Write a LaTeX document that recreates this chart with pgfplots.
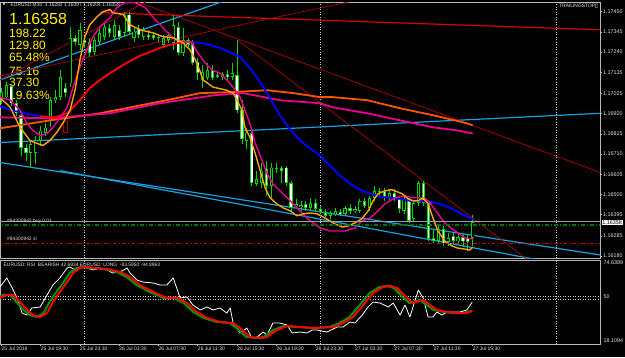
\documentclass[border=0pt]{standalone}
\usepackage{pgfplots}
\pgfplotsset{compat=1.18}
\usepackage{pgfplotstable}
\usepackage{fontspec}
\setmainfont{Liberation Sans}
\newfontfamily\dejavu{DejaVu Sans}
\definecolor{cgreen}{RGB}{0,215,0}
\definecolor{cyanl}{RGB}{25,160,225}
\definecolor{dred}{RGB}{175,0,0}
\definecolor{framec}{RGB}{185,185,185}
\definecolor{sepc}{RGB}{205,205,205}
\definecolor{oslow}{RGB}{255,85,0}
\definecolor{mtorange}{RGB}{255,165,0}
\definecolor{bidc}{RGB}{150,160,175}
\definecolor{rsigreen}{RGB}{0,150,0}
\definecolor{ordgreen}{RGB}{0,115,0}
\definecolor{txt}{RGB}{225,225,225}
\newcommand{\ft}{\fontsize{4.9}{5.5}\selectfont}

\pgfplotstableread{
i o h l c
0 1.16990 1.17053 1.16969 1.17032
1 1.17006 1.17084 1.16990 1.17068
2 1.17063 1.17074 1.16959 1.16974
3 1.16974 1.16990 1.16906 1.16922
4 1.16912 1.16922 1.16702 1.16744
5 1.16744 1.16765 1.16676 1.16718
6 1.16718 1.16781 1.16640 1.16760
7 1.16718 1.16807 1.16661 1.16781
8 1.16781 1.16859 1.16755 1.16833
9 1.16823 1.16875 1.16807 1.16849
10 1.16885 1.17006 1.16849 1.16990
11 1.16990 1.17042 1.16974 1.17006
12 1.17006 1.17147 1.16990 1.17110
13 1.17053 1.17079 1.17006 1.17027
14 1.17079 1.17372 1.17058 1.17314
15 1.17314 1.17330 1.17278 1.17293
16 1.17278 1.17393 1.17252 1.17356
17 1.17304 1.17330 1.17262 1.17288
18 1.17293 1.17314 1.17215 1.17236
19 1.17241 1.17320 1.17225 1.17304
20 1.17293 1.17367 1.17278 1.17340
21 1.17320 1.17398 1.17304 1.17372
22 1.17367 1.17388 1.17320 1.17340
23 1.17320 1.17408 1.17304 1.17382
24 1.17356 1.17382 1.17304 1.17320
25 1.17340 1.17450 1.17320 1.17435
26 1.17435 1.17450 1.17330 1.17346
27 1.17314 1.17367 1.17293 1.17346
28 1.17367 1.17382 1.17314 1.17330
29 1.17320 1.17372 1.17304 1.17356
30 1.17330 1.17356 1.17304 1.17320
31 1.17330 1.17340 1.17304 1.17314
32 1.17320 1.17330 1.17293 1.17314
33 1.17278 1.17330 1.17267 1.17314
34 1.17304 1.17346 1.17288 1.17330
35 1.17288 1.17435 1.17252 1.17382
36 1.17372 1.17398 1.17225 1.17236
37 1.17236 1.17367 1.17220 1.17304
38 1.17304 1.17314 1.17267 1.17278
39 1.17288 1.17304 1.17173 1.17184
40 1.17189 1.17210 1.17095 1.17131
41 1.17095 1.17173 1.17053 1.17136
42 1.17105 1.17184 1.17095 1.17147
43 1.17147 1.17173 1.17095 1.17105
44 1.17116 1.17136 1.17105 1.17121
45 1.17110 1.17136 1.17095 1.17126
46 1.17126 1.17147 1.17095 1.17110
47 1.17110 1.17184 1.17095 1.17131
48 1.17121 1.17304 1.16927 1.16938
49 1.16938 1.16990 1.16765 1.16791
50 1.16781 1.16844 1.16739 1.16823
51 1.16817 1.16833 1.16545 1.16561
52 1.16556 1.16624 1.16545 1.16582
53 1.16561 1.16666 1.16535 1.16624
54 1.16634 1.16676 1.16493 1.16545
55 1.16545 1.16666 1.16483 1.16640
56 1.16634 1.16666 1.16613 1.16640
57 1.16640 1.16650 1.16561 1.16624
58 1.16640 1.16650 1.16545 1.16561
59 1.16561 1.16572 1.16415 1.16430
60 1.16441 1.16478 1.16425 1.16451
61 1.16436 1.16467 1.16415 1.16446
62 1.16451 1.16467 1.16415 1.16430
63 1.16430 1.16483 1.16415 1.16457
64 1.16457 1.16478 1.16415 1.16425
65 1.16425 1.16441 1.16399 1.16410
66 1.16410 1.16425 1.16373 1.16389
67 1.16389 1.16415 1.16373 1.16404
68 1.16399 1.16430 1.16389 1.16415
69 1.16410 1.16425 1.16389 1.16399
70 1.16399 1.16441 1.16389 1.16430
71 1.16430 1.16451 1.16399 1.16415
72 1.16415 1.16441 1.16404 1.16425
73 1.16415 1.16478 1.16404 1.16467
74 1.16467 1.16483 1.16430 1.16441
75 1.16430 1.16493 1.16415 1.16483
76 1.16483 1.16545 1.16467 1.16519
77 1.16514 1.16535 1.16493 1.16519
78 1.16519 1.16535 1.16467 1.16483
79 1.16483 1.16530 1.16467 1.16509
80 1.16509 1.16530 1.16467 1.16478
81 1.16478 1.16488 1.16404 1.16425
82 1.16415 1.16488 1.16399 1.16478
83 1.16478 1.16488 1.16352 1.16362
84 1.16373 1.16467 1.16362 1.16457
85 1.16457 1.16572 1.16441 1.16561
86 1.16561 1.16572 1.16441 1.16457
87 1.16457 1.16467 1.16258 1.16268
88 1.16274 1.16321 1.16247 1.16258
89 1.16258 1.16336 1.16242 1.16321
90 1.16321 1.16336 1.16232 1.16247
91 1.16253 1.16300 1.16232 1.16274
92 1.16284 1.16300 1.16242 1.16258
93 1.16258 1.16294 1.16237 1.16279
94 1.16279 1.16294 1.16226 1.16258
95 1.16274 1.16289 1.16206 1.16253
96 1.16274 1.16394 1.16232 1.16358
}\candles

\begin{document}
\begin{tikzpicture}
\fill[black] (0pt,0pt) rectangle (625pt,357pt);
% yellow info text (under the chart lines)
\begin{scope}[every node/.style={anchor=west, inner sep=0pt, text=yellow}]
\node[font=\fontsize{16}{18}\selectfont] at (9pt,338.5pt) {1.16358};
\node[font=\fontsize{12}{14}\selectfont] at (9pt,323.3pt) {198.22};
\node[font=\fontsize{12}{14}\selectfont] at (9pt,312pt) {129.80};
\node[font=\fontsize{12}{14}\selectfont] at (9pt,299.5pt) {65.48\%};
\node[font=\fontsize{12}{14}\selectfont] at (9pt,286pt) {75.16};
\node[font=\fontsize{12}{14}\selectfont] at (9pt,274.5pt) {37.30};
\node[font=\fontsize{12}{14}\selectfont] at (9pt,262pt) {19.63\%};
\end{scope}

% ---------------- price panel ----------------
\begin{axis}[
  at={(0pt,99pt)}, anchor=south west,
  scale only axis, width=600pt, height=256pt,
  xmin=-0.285, xmax=121.915,
  ymin=1.161697, ymax=1.175004,
  axis line style={framec, line width=0.8pt},
  xtick=\empty,
  extra x ticks={17,65,113}, extra x tick labels={,,},
  extra x tick style={grid=major, major tick length=0pt},
  major grid style={draw=sepc, line width=0.8pt, dash pattern=on 1pt off 1.5pt},
  ytick={1.16180,1.16285,1.16395,1.16500,1.16605,1.16710,1.16815,1.16920,1.17025,1.17135,1.17240,1.17345,1.17450},
  yticklabels={1.16180,1.16285,1.16395,1.16500,1.16605,1.16710,1.16815,1.16920,1.17025,1.17135,1.17240,1.17345,1.17450},
  ytick pos=right, yticklabel pos=right,
  yticklabel style={font=\fontsize{5.4}{6}\selectfont, text=txt, anchor=west, inner sep=0.8pt},
  tick align=outside, major tick length=2pt,
  tick style={framec, line width=0.6pt},
]
% trend lines
\addplot[cyanl, line width=1.2pt] coordinates {(-0.3,1.16770) (122.1,1.16922)};
\addplot[cyanl, line width=1.2pt] coordinates {(-0.3,1.17095) (48.6,1.17535)};
\addplot[cyanl, line width=1.2pt] coordinates {(-0.3,1.16666) (122.1,1.16185)};
\addplot[cyanl, line width=1.2pt] coordinates {(11.9,1.16624) (109.7,1.16158)};
\addplot[dred, line width=0.7pt] coordinates {(-0.3,1.17095) (30.3,1.17513)};
\addplot[dred, line width=0.7pt] coordinates {(-0.3,1.17116) (73.0,1.17513)};
\addplot[red!85!black, line width=1.2pt] coordinates {(20.1,1.17445) (122.1,1.17356)};
\addplot[dred, line width=0.7pt] coordinates {(26.4,1.17513) (122.1,1.16613)};
\addplot[dred, line width=0.7pt] coordinates {(48.0,1.17304) (107.6,1.16153)};
\addplot[dred, line width=0.9pt] coordinates {(12.6,1.16882) (13.4,1.16882) (13.4,1.16820) (12.6,1.16820) (12.6,1.16882)};
% candles: wicks
\addplot[draw=none, mark=none, error bars/.cd, y dir=both, y explicit, error mark=none,
  error bar style={draw=cgreen, line width=0.8pt}]
  table[x=i, y expr={(\thisrow{h}+\thisrow{l})/2}, y error expr={(\thisrow{h}-\thisrow{l})/2}] {\candles};
% candles: body outlines
\addplot[draw=none, mark=none, error bars/.cd, y dir=both, y explicit, error mark=none,
  error bar style={draw=cgreen, line width=3.2pt}]
  table[x=i, y expr={(\thisrow{o}+\thisrow{c})/2}, y error expr={max(abs(\thisrow{o}-\thisrow{c})/2,0.00003)}] {\candles};
% bull bodies (black)
\addplot[draw=none, mark=none, error bars/.cd, y dir=both, y explicit, error mark=none,
  error bar style={draw=black, line width=1.5pt}]
  table[x=i, y expr={(\thisrow{o}+\thisrow{c})/2}, y error expr={ifthenelse(\thisrow{c}>\thisrow{o},max(abs(\thisrow{o}-\thisrow{c})/2-0.00004,0),0)}] {\candles};
% bear bodies (white)
\addplot[draw=none, mark=none, error bars/.cd, y dir=both, y explicit, error mark=none,
  error bar style={draw=white, line width=1.5pt}]
  table[x=i, y expr={(\thisrow{o}+\thisrow{c})/2}, y error expr={ifthenelse(\thisrow{c}<\thisrow{o},max(abs(\thisrow{o}-\thisrow{c})/2-0.00004,0),0)}] {\candles};
% slow MAs
\addplot[oslow, line width=1.8pt, line join=round] coordinates {(-0.3,1.16844) (9.9,1.16885) (20.1,1.16922) (33.7,1.16990) (40.5,1.17027) (47.2,1.17032) (54.1,1.17042) (59.4,1.17027) (64.9,1.17006) (67.5,1.17006) (74.5,1.16990) (81.2,1.16948) (87.9,1.16912) (94.8,1.16870) (96.0,1.16859)};
\addplot[magenta, line width=1.8pt, line join=round] coordinates {(-0.3,1.16901) (9.9,1.16896) (22.1,1.16922) (32.3,1.16974) (43.5,1.17016) (49.2,1.17027) (56.7,1.16990) (64.9,1.16974) (67.5,1.16953) (74.5,1.16922) (81.2,1.16885) (87.9,1.16849) (92.8,1.16833) (96.0,1.16817)};
% two-colour MA
\addplot[blue, line width=1.9pt, line join=round] coordinates {(-0.3,1.16959) (2.8,1.16933) (4.8,1.16922) (7.9,1.16906)};
\addplot[red, line width=1.9pt, line join=round] coordinates {(7.9,1.16906) (10.9,1.16901) (13.4,1.16922) (16.0,1.16990) (18.0,1.17053) (20.1,1.17095) (22.1,1.17131) (24.2,1.17163) (26.2,1.17194) (28.2,1.17220) (30.3,1.17241) (32.3,1.17262) (34.3,1.17278) (36.4,1.17288) (39.0,1.17293)};
\addplot[blue, line width=1.9pt, line join=round] coordinates {(39.0,1.17293) (41.5,1.17283) (44.5,1.17262) (48.6,1.17215) (50.6,1.17157) (52.7,1.17084) (54.7,1.17000) (56.7,1.16912) (58.8,1.16838) (60.8,1.16781) (62.9,1.16739) (64.9,1.16702) (66.9,1.16650) (69.0,1.16598) (71.0,1.16556) (73.0,1.16525) (75.1,1.16504) (77.1,1.16488) (79.1,1.16483) (81.2,1.16478) (83.2,1.16467) (85.3,1.16467) (87.3,1.16462) (89.3,1.16451) (91.4,1.16430) (93.4,1.16404) (95.4,1.16378) (96.0,1.16373)};
% fast MAs
\addplot[magenta, line width=1.4pt, line join=round] coordinates {(-0.3,1.17006) (1.8,1.16990) (3.8,1.16938) (5.2,1.16870) (6.4,1.16833) (7.9,1.16807) (9.3,1.16817) (10.5,1.16849) (11.9,1.16896) (13.4,1.16953) (14.6,1.17058) (16.0,1.17163) (17.4,1.17252) (18.7,1.17320) (20.1,1.17372) (22.1,1.17419) (23.5,1.17471) (25.2,1.17497) (27.2,1.17497) (29.3,1.17471) (31.3,1.17408) (32.7,1.17372) (33.9,1.17340) (35.4,1.17304) (37.4,1.17293) (38.8,1.17288) (40.0,1.17236) (41.5,1.17184) (42.9,1.17147) (44.5,1.17131) (45.9,1.17095) (47.2,1.17058) (48.6,1.17006) (49.6,1.16938) (50.6,1.16870) (51.7,1.16765) (53.1,1.16676) (54.1,1.16608) (55.3,1.16556) (56.7,1.16519) (58.2,1.16483) (59.4,1.16451) (60.8,1.16415) (62.2,1.16378) (63.5,1.16352) (64.9,1.16326) (66.9,1.16310) (70.0,1.16310) (72.0,1.16326) (73.4,1.16362) (75.1,1.16378) (76.7,1.16415) (78.1,1.16451) (80.2,1.16483) (82.2,1.16493) (83.6,1.16483) (84.9,1.16483) (86.3,1.16478) (87.3,1.16457) (88.9,1.16399) (90.3,1.16352) (91.8,1.16321) (93.0,1.16300) (94.4,1.16274) (96.0,1.16268)};
\addplot[mtorange, line width=1.4pt, line join=round] coordinates {(-0.3,1.17000) (0.3,1.16990) (1.8,1.16953) (3.8,1.16849) (5.8,1.16781) (7.3,1.16765) (8.5,1.16755) (9.9,1.16781) (11.3,1.16823) (12.5,1.16870) (14.0,1.16938) (15.0,1.17042) (16.0,1.17199) (17.0,1.17320) (18.0,1.17382) (19.5,1.17424) (20.7,1.17450) (22.1,1.17461) (22.7,1.17445) (24.8,1.17435) (26.2,1.17382) (28.2,1.17356) (30.9,1.17340) (32.9,1.17320) (35.0,1.17314) (37.0,1.17288) (38.4,1.17252) (39.8,1.17184) (41.1,1.17095) (43.1,1.17058) (45.9,1.17042) (47.2,1.17027) (48.0,1.16990) (49.0,1.16938) (49.6,1.16849) (50.6,1.16797) (51.7,1.16713) (52.7,1.16624) (53.7,1.16535) (54.7,1.16483) (56.1,1.16451) (57.4,1.16430) (58.8,1.16415) (60.2,1.16389) (61.4,1.16399) (62.9,1.16404) (64.3,1.16399) (65.9,1.16378) (67.9,1.16347) (69.4,1.16331) (70.6,1.16336) (72.0,1.16352) (73.4,1.16373) (74.7,1.16415) (75.7,1.16467) (76.7,1.16504) (78.1,1.16519) (79.5,1.16525) (81.6,1.16504) (82.8,1.16478) (83.8,1.16467) (84.9,1.16467) (85.9,1.16483) (86.9,1.16451) (87.9,1.16378) (88.9,1.16310) (90.3,1.16258) (91.8,1.16232) (93.0,1.16221) (94.4,1.16216) (95.4,1.16211) (96.0,1.16226)};
% order lines
\addplot[bidc, line width=0.8pt] coordinates {(-1,1.16358) (123,1.16358)};
\addplot[ordgreen, line width=1.1pt, dash pattern=on 4pt off 2pt on 1pt off 2pt] coordinates {(-1,1.16341) (123,1.16341)};
\addplot[red!80!black, line width=0.8pt, dash pattern=on 4pt off 2pt on 1pt off 2pt] coordinates {(-1,1.16246) (123,1.16246)};
\end{axis}

% ---------------- RSI panel ----------------
\begin{axis}[
  at={(0pt,13pt)}, anchor=south west,
  scale only axis, width=600pt, height=84pt,
  xmin=-0.285, xmax=121.915, ymin=18.1094, ymax=74.6389,
  axis line style={framec, line width=0.8pt},
  ytick=\empty,
  xtick={0,8,16,24,32,40,48,56,64,72,80,88,96},
  xticklabels={25 Jul 2018,25 Jul 19:30,25 Jul 23:30,26 Jul 03:30,26 Jul 07:30,26 Jul 11:30,26 Jul 15:30,26 Jul 19:30,26 Jul 23:30,27 Jul 03:30,27 Jul 07:30,27 Jul 11:30,27 Jul 15:30},
  xtick pos=left,
  xticklabel style={anchor=north west, inner sep=0pt, font=\fontsize{5}{5.5}\selectfont, text=txt, yshift=-1pt},
  tick align=outside, major tick length=2pt,
  tick style={framec, line width=0.6pt},
  extra x ticks={17,65,113}, extra x tick labels={,,},
  extra x tick style={grid=major, major tick length=0pt},
  extra y ticks={48,50}, extra y tick labels={,},
  extra y tick style={grid=major, major tick length=0pt},
  major grid style={draw=sepc, line width=0.8pt, dash pattern=on 1pt off 1.5pt},
]
\addplot[white, line width=0.8pt, line join=round] coordinates {(-0.3,56.47) (1.1,62.53) (2.2,55.80) (3.2,49.07) (4.2,38.97) (5.2,37.63) (6.2,42.34) (7.9,43.01) (9.3,51.09) (10.5,57.82) (11.9,62.53) (13.4,69.26) (14.0,69.93) (15.0,67.91) (16.0,69.93) (17.4,69.26) (18.7,67.91) (20.1,69.26) (21.5,67.91) (22.7,65.89) (24.2,66.57) (25.6,69.26) (26.2,65.89) (27.6,61.18) (28.8,59.84) (30.9,59.16) (32.3,57.82) (33.7,57.82) (35.0,62.53) (36.4,49.07) (37.8,49.74) (39.0,44.36) (40.5,40.99) (41.9,43.01) (43.1,40.99) (44.5,42.34) (45.9,38.97) (46.6,42.34) (47.2,32.24) (48.6,25.51) (50.0,28.88) (51.0,22.15) (52.1,22.82) (53.3,26.19) (54.1,24.17) (55.3,32.24) (56.7,32.24) (58.2,30.90) (59.2,25.51) (60.8,26.19) (62.2,25.51) (63.3,27.53) (64.3,27.53) (66.3,26.19) (68.4,29.55) (69.6,29.55) (71.0,32.92) (72.0,32.24) (73.5,37.63) (74.5,42.34) (75.7,46.38) (77.1,45.70) (78.8,43.01) (79.8,45.70) (81.2,37.63) (82.2,44.36) (83.2,36.28) (84.9,54.45) (85.9,49.07) (86.9,36.28) (87.9,36.28) (88.7,39.65) (89.7,37.63) (90.8,39.65) (92.0,39.65) (93.4,39.65) (94.8,40.99) (95.9,46.38)};
\addplot[rsigreen, line width=2pt, line join=round] coordinates {(-0.3,50.0) (0.4,51.09) (1.7,51.09) (3.1,46.38) (4.5,40.99) (5.7,37.63) (7.2,36.28) (8.6,38.97) (9.8,46.38) (11.2,53.11) (12.7,59.84) (13.9,65.89) (15.3,69.26) (16.7,69.93) (18.0,69.26) (20.8,68.59) (23.5,66.57) (25.5,63.20) (27.5,57.82) (30.2,53.11) (33.0,49.07) (35.1,49.07) (37.1,45.70) (39.1,39.65) (41.2,35.61) (43.8,32.92) (46.5,32.24) (47.9,28.88) (49.9,22.82) (52.0,22.15) (53.4,22.82) (55.4,27.53) (57.5,30.22) (60.1,29.55) (63.6,28.88) (66.8,29.55) (68.9,32.24) (70.9,36.28) (73.0,44.36) (75.0,52.43) (77.0,56.47) (78.5,57.14) (79.9,55.80) (81.9,49.07) (83.1,45.70) (85.2,47.72) (86.6,44.36) (88.0,40.99) (90.1,39.65) (92.1,38.97) (94.1,38.97) (95.9,40.5)};
\addplot[red, line width=2pt, line join=round] coordinates {(-0.3,49.07) (1.1,51.09) (2.4,51.09) (3.8,46.38) (5.2,40.99) (6.4,37.63) (7.9,36.28) (9.3,38.97) (10.5,46.38) (11.9,53.11) (13.4,59.84) (14.6,65.89) (16.0,69.26) (17.4,69.93) (18.7,69.26) (21.5,68.59) (24.2,66.57) (26.2,63.20) (28.2,57.82) (30.9,53.11) (33.7,49.07) (35.8,49.07) (37.8,45.70) (39.8,39.65) (41.9,35.61) (44.5,32.92) (47.2,32.24) (48.6,28.88) (50.6,22.82) (52.7,22.15) (54.1,22.82) (56.1,27.53) (58.2,30.22) (60.8,29.55) (64.3,28.88) (67.5,29.55) (69.6,32.24) (71.6,36.28) (73.7,44.36) (75.7,52.43) (77.7,56.47) (79.2,57.14) (80.6,55.80) (82.6,49.07) (83.8,45.70) (85.9,47.72) (87.3,44.36) (88.7,40.99) (90.8,39.65) (92.8,38.97) (94.8,38.97) (95.9,40.32)};
\end{axis}

% ---------------- overlay texts ----------------
\begin{scope}[every node/.style={inner sep=0pt, text=txt, font=\ft}]
\node[anchor=west, font={\dejavu\fontsize{3.8}{4}\selectfont}] at (2.5pt,352pt) {▼};
\node[anchor=west] at (10.5pt,352pt) {EURUSD,M30\ \ 1.16282 1.16397 1.16204 1.16358};
\node[anchor=east] at (598pt,351pt) {TRAILINGSTOP[]};
\node[anchor=west] at (7pt,135.5pt) {\#84300942 buy 0.01};
\node[anchor=west] at (7pt,118pt) {\#84300942 sl};
\node[anchor=west] at (3.5pt,92pt) {EURUSD: RSI\ \ BEARISH 42.6934 EURUSD: LONG\ \ -83.5950 -94.8963};
\node[anchor=west, font=\fontsize{5.4}{6}\selectfont] at (603.5pt,94pt) {74.6389};
\node[anchor=west, font=\fontsize{5.4}{6}\selectfont] at (603.5pt,60.5pt) {50};
\node[anchor=west, font=\fontsize{5.4}{6}\selectfont] at (603.5pt,16pt) {18.1094};
\end{scope}
\node[fill=white, text=black, anchor=west, inner sep=0.7pt, font=\fontsize{5.4}{6}\selectfont] at (601.5pt,134.7pt) {1.16358};
\pgfresetboundingbox
\useasboundingbox (0pt,0pt) rectangle (625pt,357pt);
\end{tikzpicture}
\end{document}
